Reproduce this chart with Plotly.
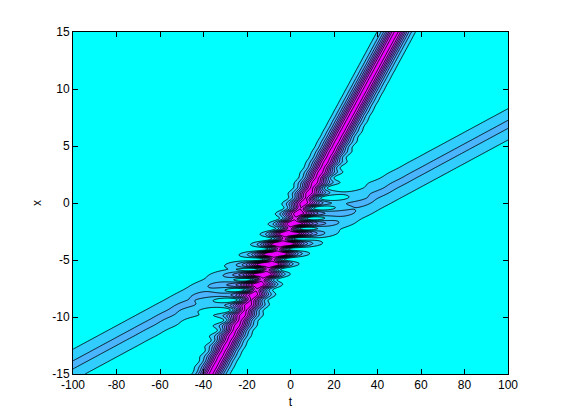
import numpy as np
import plotly.graph_objects as go

# axis extents and ticks
t_range = [-100, 100]
x_range = [-15, 15]
t_ticks = [-100, -80, -60, -40, -20, 0, 20, 40, 60, 80, 100]
x_ticks = [-15, -10, -5, 0, 5, 10, 15]

# soliton parameters (ridge slope dx/dt, x at t=0, amplitude, inverse width)
sol_speed = [0.352, 0.103]
sol_offset = [-2.11, -3.65]
sol_amp = [0.965, 0.46]
sol_width = [0.57, 0.67]
shift_after_collision = [0.0, 0.25]   # half phase-shift of each ridge
fringe_k = [7.0, 0.0]                 # interference wavenumbers (x, t)
core_damping = 0.88                   # weak soliton suppressed inside the strong core

# contour levels of |u|^2
levels = dict(start=0.1, end=0.9, size=0.1)
band_colors = ["rgb(0,255,255)", "rgb(50,205,255)", "rgb(75,180,255)", "rgb(100,155,255)",
               "rgb(125,130,255)", "rgb(150,105,255)", "rgb(175,80,255)", "rgb(200,55,255)",
               "rgb(225,30,255)", "rgb(235,0,255)"]

t = np.linspace(t_range[0], t_range[1], 601)
x = np.linspace(x_range[0], x_range[1], 451)
T, X = np.meshgrid(t, x)

y1 = X - sol_speed[0] * T - sol_offset[0]
c2 = sol_offset[1] - shift_after_collision[1] * np.tanh(sol_width[0] * y1)
y2 = X - sol_speed[1] * T - c2
s1 = 1 / np.cosh(sol_width[0] * y1)
u1 = sol_amp[0] * s1
u2 = sol_amp[1] / np.cosh(sol_width[1] * y2) * (1 - core_damping * s1 ** 4)
phase = fringe_k[0] * X + fringe_k[1] * T
Z = np.abs(u1 + u2 * np.exp(1j * phase)) ** 2
Z = np.round(Z, 4)

n = len(band_colors)
colorscale = [[i / (n - 1), c] for i, c in enumerate(band_colors)]

fig = go.Figure(go.Contour(
    x=t, y=x, z=Z,
    autocontour=False,
    contours=dict(start=levels["start"], end=levels["end"], size=levels["size"], coloring="fill"),
    colorscale=colorscale,
    showscale=False,
    line=dict(color="black", width=0.9),
    hoverinfo="skip",
))

axis_common = dict(
    showline=True, linecolor="black", linewidth=1, mirror="ticks",
    ticks="inside", ticklen=5, tickcolor="black", showgrid=False, zeroline=False,
    tickfont=dict(family="Liberation Sans, Arial", size=12, color="black"),
)
fig.update_xaxes(range=t_range, tickvals=t_ticks, ticktext=[str(v) for v in t_ticks],
                 title=dict(text="t", font=dict(family="Liberation Sans, Arial", size=12, color="black"), standoff=6),
                 **axis_common)
fig.update_yaxes(range=x_range, tickvals=x_ticks, ticktext=[str(v) for v in x_ticks],
                 title=dict(text="x", font=dict(family="Liberation Sans, Arial", size=12, color="black"), standoff=8),
                 **axis_common)
fig.update_layout(
    width=561, height=420,
    margin=dict(l=73, r=53, t=32, b=46),
    paper_bgcolor="white", plot_bgcolor="rgb(0,255,255)",
    showlegend=False,
)
fig.write_html("out.html", config={"displayModeBar": False},
               post_script="document.body.style.margin='0';")
